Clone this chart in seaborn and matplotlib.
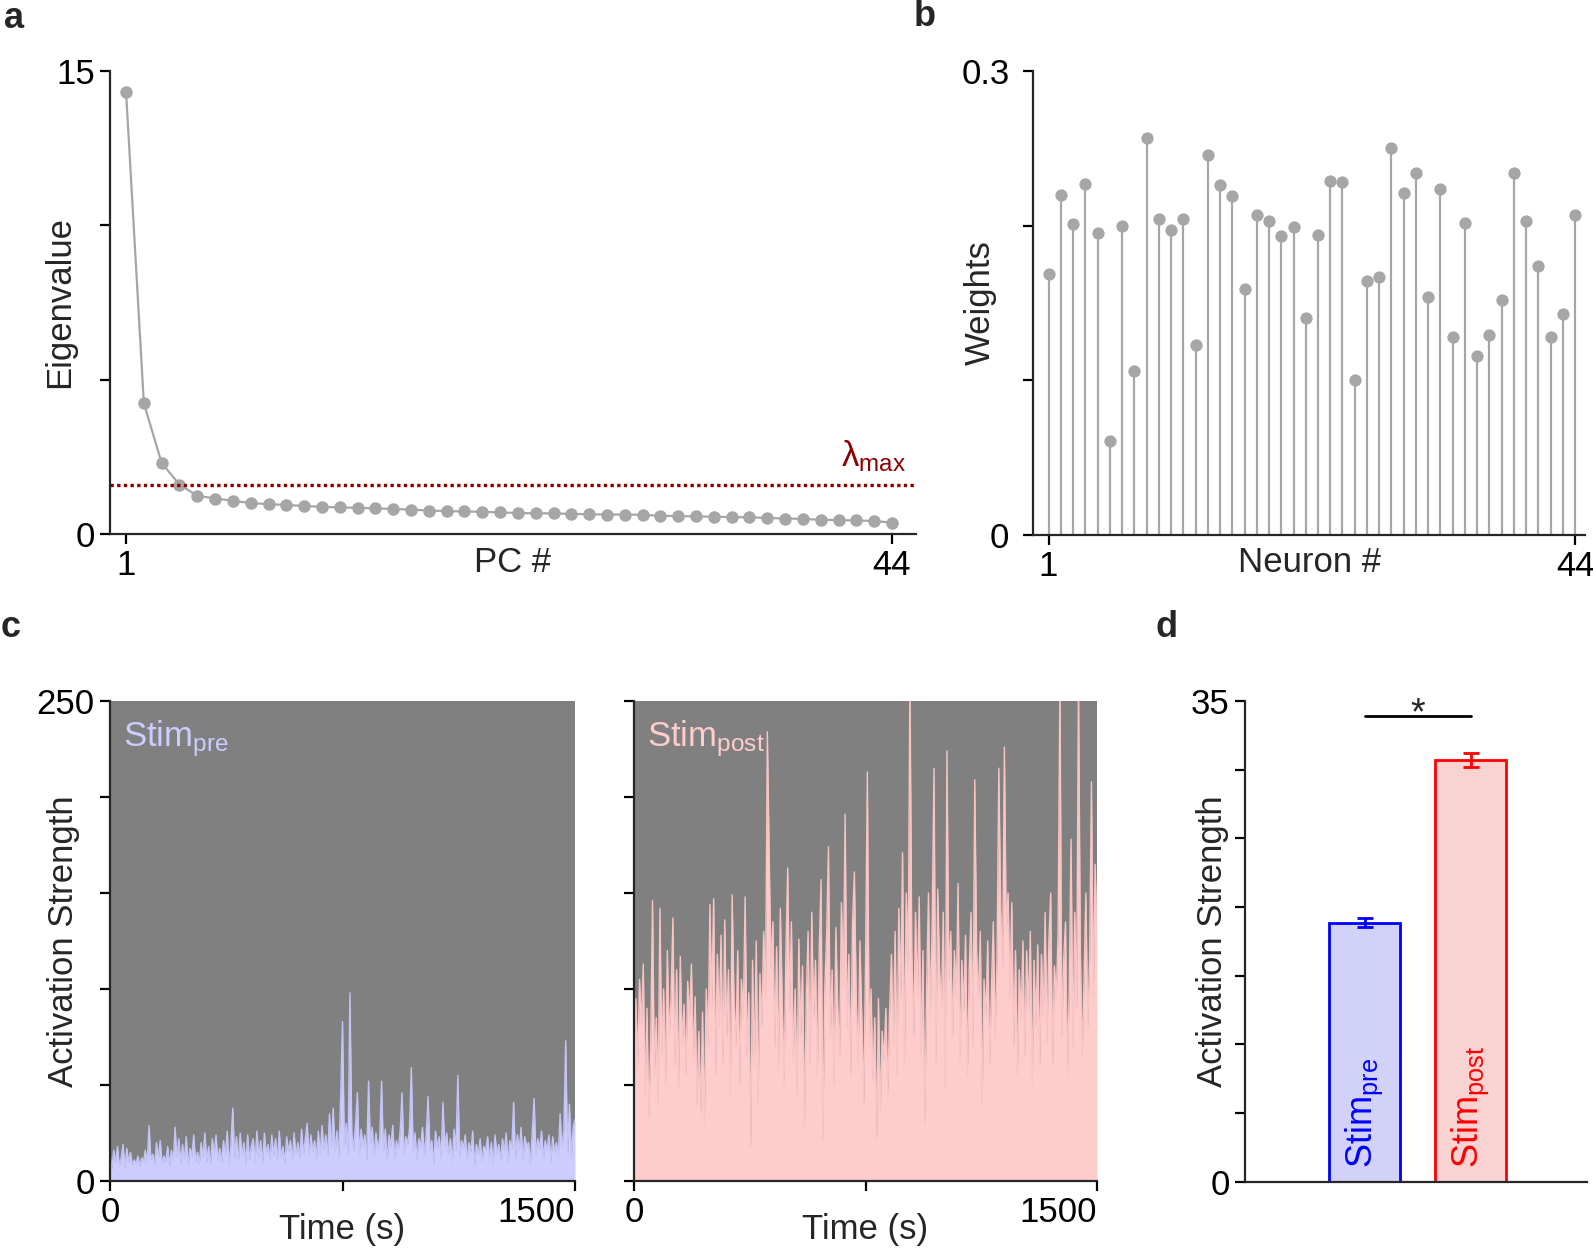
import numpy as np
import pandas as pd
import seaborn as sns
import matplotlib
matplotlib.use("Agg")
import matplotlib.pyplot as plt

### a: eigenvalues of the 44 principal components
pc_num = list(range(1, 45))
eigenvalues = [14.33, 4.24, 2.30, 1.60, 1.24, 1.15, 1.08, 1.00, 0.97, 0.94,
               0.91, 0.88, 0.86, 0.85, 0.83, 0.81, 0.79, 0.76, 0.74, 0.73,
               0.72, 0.70, 0.68, 0.67, 0.67, 0.65, 0.64, 0.63, 0.63, 0.62,
               0.59, 0.58, 0.57, 0.56, 0.55, 0.54, 0.52, 0.50, 0.49, 0.46,
               0.45, 0.44, 0.42, 0.37]
lambda_max = 1.60

### b: neuron weights
neuron_num = list(range(1, 45))
weights = [0.169, 0.220, 0.201, 0.227, 0.195, 0.061, 0.200, 0.106, 0.257, 0.204,
           0.197, 0.204, 0.123, 0.246, 0.226, 0.219, 0.159, 0.207, 0.203, 0.193,
           0.199, 0.140, 0.194, 0.229, 0.228, 0.100, 0.164, 0.167, 0.250, 0.221,
           0.234, 0.154, 0.224, 0.128, 0.202, 0.116, 0.129, 0.152, 0.234, 0.203,
           0.174, 0.128, 0.143, 0.207]

### c: activation strength over time (one sample every 6 s)
stim_pre = [14, 6, 16, 9, 18, 8, 12, 19, 7, 17,
            10, 15, 8, 11, 9, 13, 8, 12, 10, 16,
            9, 29, 11, 14, 8, 20, 12, 21, 9, 13,
            10, 18, 8, 16, 10, 28, 12, 22, 9, 19,
            11, 23, 8, 17, 13, 24, 10, 15, 9, 20,
            12, 25, 10, 18, 8, 22, 14, 24, 11, 17,
            10, 21, 13, 26, 9, 19, 38, 12, 23, 10,
            25, 13, 20, 9, 24, 11, 18, 22, 10, 26,
            12, 21, 9, 25, 14, 19, 11, 24, 13, 22,
            10, 26, 12, 18, 9, 23, 15, 21, 11, 25,
            13, 20, 12, 27, 14, 22, 30, 13, 24, 15,
            21, 12, 26, 14, 29, 16, 24, 13, 35, 17,
            38, 15, 26, 12, 44, 83, 18, 30, 14, 98,
            25, 16, 30, 46, 14, 27, 18, 24, 11, 52,
            19, 28, 13, 25, 17, 22, 52, 15, 27, 10,
            24, 18, 29, 12, 21, 16, 26, 46, 14, 23,
            19, 27, 59, 15, 25, 11, 22, 18, 28, 13,
            24, 44, 16, 21, 9, 26, 17, 23, 12, 41,
            18, 25, 14, 22, 10, 27, 16, 55, 13, 21,
            17, 24, 11, 20, 15, 26, 8, 19, 13, 22,
            10, 18, 16, 23, 12, 20, 9, 24, 14, 19,
            11, 22, 15, 25, 10, 21, 17, 41, 12, 24,
            16, 28, 11, 23, 18, 20, 9, 25, 43, 14,
            22, 17, 26, 12, 21, 16, 24, 10, 23, 15,
            20, 13, 35, 18, 26, 73, 14, 40, 12, 28,
            32]
stim_post = [75, 95, 60, 105, 80, 113, 45, 90, 33, 70,
             146, 55, 85, 40, 142, 65, 100, 50, 120, 75,
             95, 137, 60, 110, 48, 117, 70, 92, 55, 104,
             85, 113, 62, 96, 40, 78, 35, 88, 30, 100,
             70, 144, 90, 147, 55, 118, 80, 128, 60, 136,
             75, 110, 45, 149, 95, 70, 120, 50, 105, 85,
             148, 65, 98, 18, 115, 60, 125, 40, 108, 80,
             130, 95, 234, 169, 110, 135, 70, 122, 58, 142,
             95, 50, 118, 163, 88, 135, 62, 100, 45, 126,
             75, 112, 28, 95, 130, 60, 140, 85, 115, 55,
             120, 157, 21, 100, 128, 174, 75, 110, 50, 132,
             90, 65, 145, 100, 191, 80, 118, 55, 135, 161,
             95, 60, 125, 85, 40, 112, 213, 70, 100, 52,
             85, 22, 95, 35, 78, 62, 90, 45, 88, 118,
             70, 130, 55, 142, 95, 171, 60, 150, 110, 262,
             120, 75, 140, 95, 148, 65, 120, 30, 100, 150,
             85, 135, 215, 60, 152, 110, 90, 140, 48, 224,
             105, 130, 75, 120, 95, 155, 62, 115, 88, 128,
             55, 110, 140, 70, 209, 120, 95, 130, 40, 105,
             85, 125, 60, 100, 135, 75, 115, 215, 140, 110,
             226, 130, 150, 95, 145, 70, 120, 55, 110, 85,
             125, 65, 120, 90, 130, 50, 115, 80, 123, 60,
             118, 85, 140, 72, 125, 150, 60, 112, 95, 130,
             262, 75, 115, 135, 55, 100, 178, 70, 140, 90,
             262, 120, 65, 105, 150, 80, 115, 208, 95, 165,
             125]
time_s = np.linspace(0, 1500, len(stim_pre))

### d: mean activation strength
groups = ["Stim$_{\\mathrm{pre}}$", "Stim$_{\\mathrm{post}}$"]
mean_strength = [18.85, 30.7]
sem_strength = [0.33, 0.5]
sig_level = 33.93

### Graph
sns.set_style("ticks")
plt.rcParams["font.family"] = ["Liberation Sans", "DejaVu Sans"]
plt.rcParams["mathtext.fontset"] = "custom"
plt.rcParams["mathtext.rm"] = "Liberation Sans"
plt.rcParams["mathtext.it"] = "Liberation Sans:italic"
plt.rcParams["axes.linewidth"] = 1.6

W, H = 1593, 1250
fig = plt.figure(figsize=(W / 100, H / 100), dpi=100)


def box(x0, y0, x1, y1):
    return [x0 / W, 1 - y1 / H, (x1 - x0) / W, (y1 - y0) / H]


FS = 25
grey = "#a6a6a6"


def style(ax):
    sns.despine(ax=ax)
    ax.tick_params(labelsize=FS, length=7, width=1.6, direction="out", pad=4,
                   colors="black")


# a
ax_a = fig.add_axes(box(110, 71, 916, 534))
sns.lineplot(x=pc_num, y=eigenvalues, ax=ax_a, color=grey, lw=1.6,
             marker="o", markersize=9, markeredgewidth=0, markerfacecolor=grey)
ax_a.axhline(lambda_max, color="#8b0000", lw=2.4, ls=(0, (1, 1)))
ax_a.text(44.8, 2.2, "λ$_{\\mathrm{max}}$", color="#8b0000", fontsize=FS,
          ha="right", va="baseline")
ax_a.set_xlim(0.10, 45.35)
ax_a.set_ylim(0, 15)
ax_a.set_xticks([1, 44])
ax_a.set_yticks([0, 5, 10, 15])
ax_a.set_yticklabels(["0", "", "", "15"])
style(ax_a)
ax_a.set_xlabel("PC #", fontsize=FS)
ax_a.set_ylabel("Eigenvalue", fontsize=FS)
ax_a.xaxis.label.set_va("center")
ax_a.yaxis.label.set_va("center")
ax_a.xaxis.set_label_coords(0.5, -0.062)
ax_a.yaxis.set_label_coords(-0.063, 0.5)

# b
ax_b = fig.add_axes(box(1033, 71, 1585, 535))
ax_b.vlines(neuron_num, 0, weights, color=grey, lw=1.6)
sns.scatterplot(x=neuron_num, y=weights, ax=ax_b, color=grey, s=78,
                linewidth=0, zorder=3)
ax_b.set_xlim(-0.27, 44.8)
ax_b.set_ylim(0, 0.3)
ax_b.set_xticks([1, 44])
ax_b.set_yticks([0, 0.1, 0.2, 0.3])
ax_b.set_yticklabels(["0", "", "", "0.3"])
style(ax_b)
ax_b.tick_params(axis="y", pad=10)
ax_b.set_xlabel("Neuron #", fontsize=FS)
ax_b.set_ylabel("Weights", fontsize=FS)
ax_b.xaxis.label.set_va("center")
ax_b.yaxis.label.set_va("center")
ax_b.xaxis.set_label_coords(0.5, -0.06)
ax_b.yaxis.set_label_coords(-0.096, 0.5)

# c
panels = [(box(110, 701, 575, 1181), stim_pre, "#ccccff", "#c4c4f6",
           "Stim$_{\\mathrm{pre}}$", True),
          (box(634, 701, 1097, 1181), stim_post, "#ffcccc", "#f8c4c4",
           "Stim$_{\\mathrm{post}}$", False)]
for rect, vals, fill_c, line_c, name, first in panels:
    ax = fig.add_axes(rect)
    ax.set_facecolor("#808080")
    ax.fill_between(time_s, 0, vals, color=fill_c, lw=0)
    sns.lineplot(x=time_s, y=vals, ax=ax, color=line_c, lw=1.0, estimator=None)
    ax.set_xlim(0, 1500)
    ax.set_ylim(0, 250)
    ax.set_xticks([0, 750, 1500])
    ax.set_xticklabels(["0", "", "1500"])
    ax.get_xticklabels()[2].set_ha("right")
    ax.get_xticklabels()[2].set_x(1500)
    ax.set_yticks([0, 50, 100, 150, 200, 250])
    if first:
        ax.set_yticklabels(["0", "", "", "", "", "250"])
        ax.set_ylabel("Activation Strength", fontsize=FS)
        ax.yaxis.label.set_va("center")
        ax.yaxis.set_label_coords(-0.101, 0.5)
    else:
        ax.set_yticklabels([])
        ax.set_ylabel("")
    style(ax)
    for lab in ax.get_xticklabels():
        if lab.get_text() == "1500":
            lab.set_ha("right")
    ax.set_xlabel("Time (s)", fontsize=FS)
    ax.xaxis.label.set_va("center")
    ax.xaxis.set_label_coords(0.5, -0.1)
    ax.text(0.028, 0.965, name, color=fill_c, fontsize=FS,
            transform=ax.transAxes, ha="left", va="top")

# d
ax_d = fig.add_axes(box(1245, 701, 1587, 1181.6))
bar_df = pd.DataFrame({"group": groups, "strength": mean_strength})
sns.barplot(data=bar_df, x="group", y="strength", hue="group",
            palette=["#ccccff", "#ffcccc"], width=0.67, errorbar=None,
            legend=False, ax=ax_d)
edge_cols = ["#0000ff", "#ff0000"]
for patch, ec in zip(ax_d.patches, edge_cols):
    patch.set_edgecolor(ec)
    patch.set_linewidth(2.0)
for i, (m, e, ec) in enumerate(zip(mean_strength, sem_strength, edge_cols)):
    ax_d.errorbar(i, m, yerr=e, fmt="none", ecolor=ec, elinewidth=2.0,
                  capsize=6, capthick=2.0)
    ax_d.text(i, 0.99, groups[i], color=ec, fontsize=FS + 1, rotation=90,
              ha="center", va="bottom")
ax_d.plot([0, 1], [sig_level, sig_level], color="black", lw=2.0)
ax_d.text(0.5, sig_level - 0.6, "*", fontsize=27, ha="center", va="baseline")
ax_d.set_xlim(-1.13, 2.10)
ax_d.set_ylim(0, 35)
ax_d.set_xticks([])
ax_d.set_yticks([0, 5, 10, 15, 20, 25, 30, 35])
ax_d.set_yticklabels(["0", "", "", "", "", "", "", "35"])
style(ax_d)
ax_d.set_xlabel("")
ax_d.set_ylabel("Activation Strength", fontsize=FS)
ax_d.yaxis.label.set_va("center")
ax_d.yaxis.set_label_coords(-0.095, 0.5)

# panel letters
for letter, (x, y) in {"a": (14, 18), "b": (925, 16),
                       "c": (11, 627), "d": (1167, 627)}.items():
    fig.text(x / W, 1 - y / H, letter, fontsize=26, fontweight="bold",
             ha="center", va="center")

fig.savefig("out.png", dpi=100)
